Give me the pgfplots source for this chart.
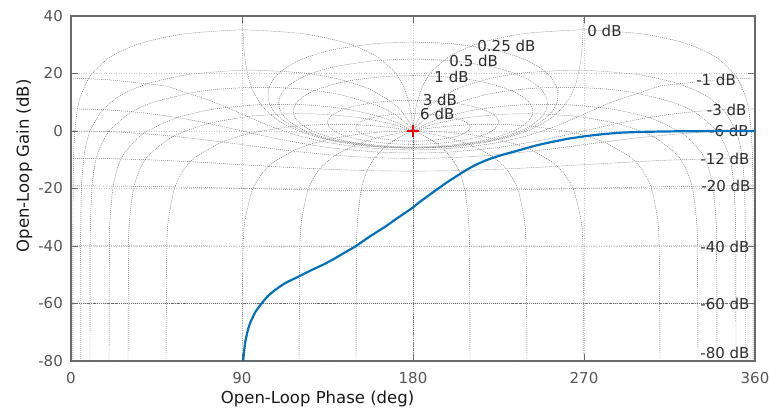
\documentclass[border=0pt]{standalone}
\usepackage{fontspec}
\setmainfont{DejaVu Sans}
\usepackage{pgfplots}
\pgfplotsset{compat=1.18}
\definecolor{mblue}{RGB}{0,114,189}
\definecolor{axgray}{RGB}{105,105,105}
\definecolor{tickgray}{RGB}{85,85,85}
\definecolor{gridtext}{RGB}{45,45,45}
\definecolor{mred}{RGB}{255,0,0}
\pgfplotsset{ngrid/.style={color=black!58, line width=0.42pt, dash pattern=on 1pt off 1pt, smooth, tension=0.4, forget plot, mark=none}}
\newcommand{\gl}{\fontsize{15}{18}\selectfont}
\begin{document}
\begin{tikzpicture}
\begin{axis}[
 name=ax,
 width=684pt, height=345pt, scale only axis,
 xmin=0, xmax=360, ymin=-80, ymax=40,
 xtick={0,90,180,270,360}, ytick={-80,-60,-40,-20,0,20,40},
 xticklabels={0,90,180,270,360},
 yticklabels={-80,-60,-40,-20,0,20,40},
 tick align=inside, major tick length=7pt,
 tick style={axgray, line width=1pt},
 axis line style={axgray, line width=1.4pt},
 grid=major,
 major grid style={black!22, line width=0.7pt, dash pattern=on 1pt off 1.5pt},
 tick label style={font=\fontsize{15}{18}\selectfont, text=tickgray, inner sep=0pt},
 xticklabel shift=11pt, yticklabel shift=8pt,
 xlabel={Open-Loop Phase (deg)}, ylabel={Open-Loop Gain (dB)},
 every axis x label/.style={at={(axis description cs:0.3605,-0.1107)}, anchor=center, font=\fontsize{16.5}{19}\selectfont, text=black!90},
 every axis y label/.style={at={(axis description cs:-0.0684,0.566)}, rotate=90, anchor=center, font=\fontsize{16.5}{19}\selectfont, text=black!90},
]
% ---- constant closed-loop gain contours (M > 1)
\addplot[ngrid] coordinates {(180,6.041) (190,5.770) (200,4.832) (205,3.919) (208,3.006) (209,2.527) (210,1.602) (210.08,1.256) (210,0.911) (209,-0.015) (208,-0.493) (205,-1.406) (200,-2.319) (190,-3.257) (180,-3.528) (170,-3.257) (160,-2.319) (155,-1.406) (152,-0.493) (151,-0.015) (150,0.911) (149.92,1.256) (150,1.602) (151,2.527) (152,3.006) (155,3.919) (160,4.832) (170,5.770) (180,6.041)};
\addplot[ngrid] coordinates {(180,10.691) (190,10.501) (200,9.901) (210,8.758) (215,7.868) (220,6.570) (223,5.329) (225,3.444) (225.07,3.020) (225,2.596) (223,0.712) (220,-0.528) (215,-1.827) (210,-2.717) (200,-3.860) (190,-4.460) (180,-4.650) (170,-4.460) (160,-3.860) (150,-2.717) (145,-1.827) (140,-0.528) (137,0.712) (135,2.596) (134.93,3.020) (135,3.444) (137,5.329) (140,6.570) (145,7.868) (150,8.758) (160,9.901) (170,10.501) (180,10.691)};
\addplot[ngrid] coordinates {(180,19.271) (195,18.932) (210,17.839) (220,16.556) (230,14.551) (235,13.057) (240,10.768) (242,9.166) (243,7.376) (243.03,6.862) (243,6.348) (242,4.571) (240,2.969) (235,0.680) (230,-0.814) (220,-2.820) (210,-4.103) (195,-5.195) (180,-5.535) (165,-5.195) (150,-4.103) (140,-2.820) (130,-0.814) (125,0.680) (120,2.969) (118,4.571) (117,6.348) (116.97,6.862) (117,7.376) (118,9.166) (120,10.768) (125,13.057) (130,14.551) (140,16.556) (150,17.839) (165,18.932) (180,19.271)};
\addplot[ngrid] coordinates {(180,25.045) (200,24.471) (220,22.543) (228,21.219) (235,19.636) (240,18.120) (245,16.010) (248,14.115) (250,11.996) (250.75,9.632) (250,7.275) (248,5.156) (245,3.262) (240,1.152) (235,-0.364) (228,-1.948) (220,-3.272) (200,-5.199) (180,-5.773) (160,-5.199) (140,-3.272) (132,-1.948) (125,-0.364) (120,1.152) (115,3.262) (112,5.156) (110,7.275) (109.25,9.632) (110,11.996) (112,14.115) (115,16.010) (120,18.120) (125,19.636) (132,21.219) (140,22.543) (160,24.471) (180,25.045)};
\addplot[ngrid] coordinates {(180,30.943) (200,30.386) (220,28.537) (228,27.292) (235,25.843) (240,24.514) (245,22.808) (250,20.450) (253,18.381) (255,16.267) (256,14.378) (256.33,12.518) (256,10.668) (255,8.780) (253,6.665) (250,4.596) (245,2.238) (240,0.532) (235,-0.797) (228,-2.247) (220,-3.493) (200,-5.341) (180,-5.897) (160,-5.341) (140,-3.493) (132,-2.247) (125,-0.797) (120,0.532) (115,2.238) (110,4.596) (107,6.665) (105,8.780) (104,10.668) (103.67,12.518) (104,14.378) (105,16.267) (107,18.381) (110,20.450) (115,22.808) (120,24.514) (125,25.843) (132,27.292) (140,28.537) (160,30.386) (180,30.943)};
% 0 dB
\addplot[ngrid] coordinates {(90.25,41.18) (90.5,35.163) (91,29.143) (92,23.123) (94,17.108) (96,13.595) (100,9.186) (105,5.719) (110,3.298) (115,1.461) (120,0) (125,-1.193) (130,-2.182) (140,-3.706) (150,-4.771) (160,-5.480) (180,-6.021) (200,-5.480) (210,-4.771) (220,-3.706) (230,-2.182) (235,-1.193) (240,0) (245,1.461) (250,3.298) (255,5.719) (260,9.186) (264,13.595) (266,17.108) (268,23.123) (269,29.143) (269.5,35.163) (269.75,41.18)};
% ---- M < 1
\addplot[ngrid] coordinates {(0,18.271) (10,18.153) (20,17.793) (35,16.762) (50,15.613) (60,13.417) (70,11.338) (80,8.778) (90,5.868) (105,1.621) (120,-1.680) (135,-3.964) (150,-5.439) (165,-6.269) (180,-6.535) (195,-6.269) (210,-5.439) (225,-3.964) (240,-1.680) (255,1.621) (270,5.868) (280,8.778) (290,11.338) (300,13.417) (310,15.613) (325,16.762) (340,17.793) (350,18.153) (360,18.271)};
\addplot[ngrid] coordinates {(0,7.691) (15,7.479) (30,6.839) (45,5.752) (60,4.210) (75,2.250) (90,0.021) (110,-2.902) (135,-5.711) (160,-7.273) (180,-7.650) (200,-7.273) (225,-5.711) (250,-2.902) (270,0.021) (285,2.250) (300,4.210) (315,5.752) (330,6.839) (345,7.479) (360,7.691)};
\addplot[ngrid] coordinates {(0,0.041) (15,-0.108) (30,-0.551) (45,-1.279) (60,-2.262) (75,-3.446) (90,-4.744) (105,-6.041) (120,-7.225) (135,-8.209) (150,-8.936) (165,-9.379) (180,-9.529) (195,-9.379) (210,-8.936) (225,-8.209) (240,-7.225) (255,-6.041) (270,-4.744) (285,-3.446) (300,-2.262) (315,-1.279) (330,-0.551) (345,-0.108) (360,0.041)};
\addplot[ngrid] coordinates {(0,-9.487) (20,-9.619) (45,-10.132) (65,-10.766) (90,-11.717) (115,-12.668) (135,-13.302) (160,-13.815) (180,-13.947) (200,-13.815) (225,-13.302) (245,-12.668) (270,-11.717) (295,-10.766) (315,-10.132) (340,-9.619) (360,-9.487)};
\addplot[ngrid] coordinates {(0,-19.085) (20,-19.137) (45,-19.340) (65,-19.587) (90,-19.956) (115,-20.325) (135,-20.574) (160,-20.757) (180,-20.828) (200,-20.757) (225,-20.574) (245,-20.325) (270,-19.956) (295,-19.587) (315,-19.340) (340,-19.137) (360,-19.085)};
\addplot[ngrid] coordinates {(0,-39.913) (90,-40.0) (180,-40.087) (270,-40.0) (360,-39.913)};
\addplot[ngrid] coordinates {(0,-60) (360,-60)};
\addplot[ngrid] coordinates {(0,-80) (360,-80)};
% ---- constant closed-loop phase contours
\addplot[ngrid] coordinates {(1,-80) (1.01,-39.91) (1.11,-19.085) (1.43,-7.360) (2.00,-0.003) (3.33,7.349) (4.99,12.015) (9.92,18.967) (19.30,25.100) (30.31,28.962) (41.33,31.386) (60.56,33.882) (90.50,35.171) (120.19,33.990) (139.11,31.659) (149.94,29.418) (160.81,25.921) (170.12,20.685) (175.02,15.524) (178.00,9.535) (179.00,6.018) (179.50,3.521) (179.75,1.938) (179.90,0.915) (180,0)};
\addplot[ngrid] coordinates {(359,-80) (358.99,-39.91) (358.89,-19.085) (358.57,-7.360) (358.00,-0.003) (356.67,7.349) (355.01,12.015) (350.08,18.967) (340.70,25.100) (329.69,28.962) (318.67,31.386) (299.44,33.882) (269.50,35.171) (239.81,33.990) (220.89,31.659) (210.06,29.418) (199.19,25.921) (189.88,20.685) (184.98,15.524) (182.00,9.535) (181.00,6.018) (180.50,3.521) (180.25,1.938) (180.10,0.915) (180,0)};
\addplot[ngrid] coordinates {(5,-80) (5.05,-39.91) (5.55,-19.089) (7.14,-7.380) (9.96,-0.066) (16.40,7.110) (23.95,11.426) (30.80,13.969) (42.18,16.819) (62.08,19.673) (92.50,21.186) (121.69,20.216) (139.98,18.187) (156.85,14.670) (170.19,9.348) (175.04,5.955) (177.51,3.497) (178.75,1.928) (179.45,0.911) (180,0)};
\addplot[ngrid] coordinates {(355,-80) (354.95,-39.91) (354.45,-19.089) (352.86,-7.380) (350.04,-0.066) (343.60,7.110) (336.05,11.426) (329.20,13.969) (317.82,16.819) (297.92,19.673) (267.50,21.186) (238.31,20.216) (220.02,18.187) (203.15,14.670) (189.81,9.348) (184.96,5.955) (182.49,3.497) (181.25,1.928) (180.55,0.911) (180,0)};
\addplot[ngrid] coordinates {(10,-80) (10.10,-39.91) (10.31,-30.14) (11.10,-19.101) (12.48,-12.082) (14.23,-7.439) (19.71,-0.256) (31.37,6.438) (43.22,9.979) (63.97,13.362) (78.66,14.590) (95.00,15.174) (110.58,15.058) (123.56,14.451) (141.10,12.749) (161.37,8.815) (170.29,5.764) (175.07,3.424) (177.52,1.897) (178.90,0.899) (179.63,0.290) (180,0)};
\addplot[ngrid] coordinates {(350,-80) (349.90,-39.91) (349.69,-30.14) (348.90,-19.101) (347.52,-12.082) (345.77,-7.439) (340.29,-0.256) (328.63,6.438) (316.78,9.979) (296.03,13.362) (281.34,14.590) (265.00,15.174) (249.42,15.058) (236.44,14.451) (218.90,12.749) (198.63,8.815) (189.71,5.764) (184.93,3.424) (182.48,1.897) (181.10,0.899) (180.37,0.290) (180,0)};
\addplot[ngrid] coordinates {(20,-80) (20.20,-39.92) (20.60,-30.18) (22.16,-19.149) (24.81,-12.202) (28.13,-7.669) (37.88,-0.939) (54.98,4.486) (75.30,7.619) (100.00,9.186) (121.59,9.140) (136.49,8.355) (148.60,7.178) (162.12,5.082) (170.58,3.146) (175.18,1.778) (177.84,0.851) (179.33,0.276) (180,0)};
\addplot[ngrid] coordinates {(340,-80) (339.80,-39.92) (339.40,-30.18) (337.84,-19.149) (335.19,-12.202) (331.87,-7.669) (322.12,-0.939) (305.02,4.486) (284.70,7.619) (260.00,9.186) (238.41,9.140) (223.51,8.355) (211.40,7.178) (197.88,5.082) (189.42,3.146) (184.82,1.778) (182.16,0.851) (180.67,0.276) (180,0)};
\addplot[ngrid] coordinates {(30,-80) (30.29,-39.92) (30.88,-30.23) (33.13,-19.226) (36.90,-12.390) (41.46,-8.019) (53.80,-1.864) (71.63,2.468) (93.89,5.085) (115.08,5.989) (130.96,5.861) (145.74,5.113) (156.21,4.157) (166.81,2.727) (173.10,1.589) (176.87,0.774) (179.02,0.253) (180,0)};
\addplot[ngrid] coordinates {(330,-80) (329.71,-39.92) (329.12,-30.23) (326.87,-19.226) (323.10,-12.390) (318.54,-8.019) (306.20,-1.864) (288.37,2.468) (266.11,5.085) (244.92,5.989) (229.04,5.861) (214.26,5.113) (203.79,4.157) (193.19,2.727) (186.90,1.589) (183.13,0.774) (180.98,0.253) (180,0)};
\addplot[ngrid] coordinates {(50,-80) (50.44,-39.94) (51.34,-30.29) (54.68,-19.452) (59.97,-12.916) (65.89,-8.935) (79.44,-3.854) (94.27,-0.807) (115.00,1.460) (130.63,2.198) (141.33,2.313) (150.56,2.167) (162.00,1.658) (170.03,1.063) (175.32,0.548) (178.51,0.185) (180,0)};
\addplot[ngrid] coordinates {(310,-80) (309.56,-39.94) (308.66,-30.29) (305.32,-19.452) (300.03,-12.916) (294.11,-8.935) (280.56,-3.854) (265.73,-0.807) (245.00,1.460) (229.37,2.198) (218.67,2.313) (209.44,2.167) (198.00,1.658) (189.97,1.063) (184.68,0.548) (181.49,0.185) (180,0)};
\addplot[ngrid] coordinates {(90,-80) (90.57,-40.00) (91.72,-30.46) (95.71,-20.043) (101.31,-14.150) (106.70,-10.832) (116.57,-6.990) (124.99,-4.830) (135.00,-3.010) (146.31,-1.597) (153.43,-0.969) (161.57,-0.458) (168.69,-0.170) (174.29,-0.043) (180,0)};
\addplot[ngrid] coordinates {(270,-80) (269.43,-40.00) (268.28,-30.46) (264.29,-20.043) (258.69,-14.150) (253.30,-10.832) (243.43,-6.990) (235.01,-4.830) (225.00,-3.010) (213.69,-1.597) (206.57,-0.969) (198.43,-0.458) (191.31,-0.170) (185.71,-0.043) (180,0)};
\addplot[ngrid] coordinates {(120,-80) (120.50,-40.04) (121.47,-30.59) (124.71,-20.453) (128.95,-14.913) (132.73,-11.888) (139.11,-8.451) (150.00,-4.771) (160.89,-2.430) (166.10,-1.597) (171.05,-0.935) (175.28,-0.453) (178.37,-0.147) (180,0)};
\addplot[ngrid] coordinates {(240,-80) (239.50,-40.04) (238.53,-30.59) (235.29,-20.453) (231.05,-14.913) (227.27,-11.888) (220.89,-8.451) (210.00,-4.771) (199.11,-2.430) (193.90,-1.597) (188.95,-0.935) (184.72,-0.453) (181.63,-0.147) (180,0)};
\addplot[ngrid] coordinates {(150,-80) (150.29,-40.08) (150.84,-30.68) (152.63,-20.730) (154.87,-15.398) (156.79,-12.525) (159.90,-9.276) (165.00,-5.719) (170.10,-3.255) (172.63,-2.275) (175.13,-1.419) (177.36,-0.730) (179.07,-0.248) (180,0)};
\addplot[ngrid] coordinates {(210,-80) (209.71,-40.08) (209.16,-30.68) (207.37,-20.730) (205.13,-15.398) (203.21,-12.525) (200.10,-9.276) (195.00,-5.719) (189.90,-3.255) (187.37,-2.275) (184.87,-1.419) (182.64,-0.730) (180.93,-0.248) (180,0)};
\addplot[ngrid] coordinates {(180,-80) (180,0)};
% ---- labels
\node[anchor=west, inner sep=0pt, font=\gl, text=gridtext] at (axis cs:271.7,34.9) {0 dB};
\node[anchor=west, inner sep=0pt, font=\gl, text=gridtext] at (axis cs:213.8,29.6) {0.25 dB};
\node[anchor=west, inner sep=0pt, font=\gl, text=gridtext] at (axis cs:199.1,24.45) {0.5 dB};
\node[anchor=west, inner sep=0pt, font=\gl, text=gridtext] at (axis cs:191.2,18.9) {1 dB};
\node[anchor=west, inner sep=0pt, font=\gl, text=gridtext] at (axis cs:185.1,10.8) {3 dB};
\node[anchor=west, inner sep=0pt, font=\gl, text=gridtext] at (axis cs:183.7,5.9) {6 dB};
\node[anchor=east, inner sep=0pt, font=\gl, text=gridtext] at (axis cs:350.0,17.7) {-1 dB};
\node[anchor=east, inner sep=0pt, font=\gl, text=gridtext] at (axis cs:355.6,7.3) {-3 dB};
\node[anchor=east, inner sep=0pt, font=\gl, text=gridtext] at (axis cs:356.8,0.1) {-6 dB};
\node[anchor=east, inner sep=0pt, font=\gl, text=gridtext] at (axis cs:357.2,-9.7) {-12 dB};
\node[anchor=east, inner sep=0pt, font=\gl, text=gridtext] at (axis cs:357.7,-19.1) {-20 dB};
\node[anchor=east, inner sep=0pt, font=\gl, text=gridtext] at (axis cs:357.2,-40.2) {-40 dB};
\node[anchor=east, inner sep=0pt, font=\gl, text=gridtext] at (axis cs:357.2,-60.2) {-60 dB};
\node[anchor=east, inner sep=0pt, font=\gl, text=gridtext] at (axis cs:357.2,-77.3) {-80 dB};
% ---- open-loop response
\addplot[mblue, line width=2.2pt, smooth, tension=0.3, mark=none] coordinates {(90.6,-80) (91.2,-76) (91.9,-72.7) (93.0,-69.5) (94.2,-66.9) (97.0,-63.0) (100.4,-59.9) (103.5,-57.5) (107.4,-55.3) (113.0,-52.8) (119.6,-50.7) (124.0,-49.2) (128.4,-47.8) (133.0,-46.4) (138.9,-44.3) (144.0,-42.3) (149.5,-40.2) (157.0,-36.8) (165.3,-33.3) (172.0,-30.2) (179.3,-26.9) (183.7,-24.6) (191.6,-20.8) (198.0,-17.8) (206.5,-14.2) (212.0,-12.1) (218.8,-10.1) (227.0,-8.3) (236.3,-6.6) (245.0,-5.0) (253.8,-3.7) (262.0,-2.65) (271.4,-1.74) (280.0,-1.1) (288.9,-0.6) (297.0,-0.38) (306.5,-0.23) (320,-0.1) (335,-0.03) (350,0) (360,0)};
\addplot[draw=mred, only marks, mark=+, mark size=6pt, mark options={draw=mred, solid, line width=1.2pt}] table {
x y
180 0
};
\end{axis}
\pgfresetboundingbox
\path[use as bounding box] ([shift={(-71pt,-49pt)}]ax.south west) rectangle ([shift={(14pt,16pt)}]ax.north east);
\end{tikzpicture}
\end{document}
